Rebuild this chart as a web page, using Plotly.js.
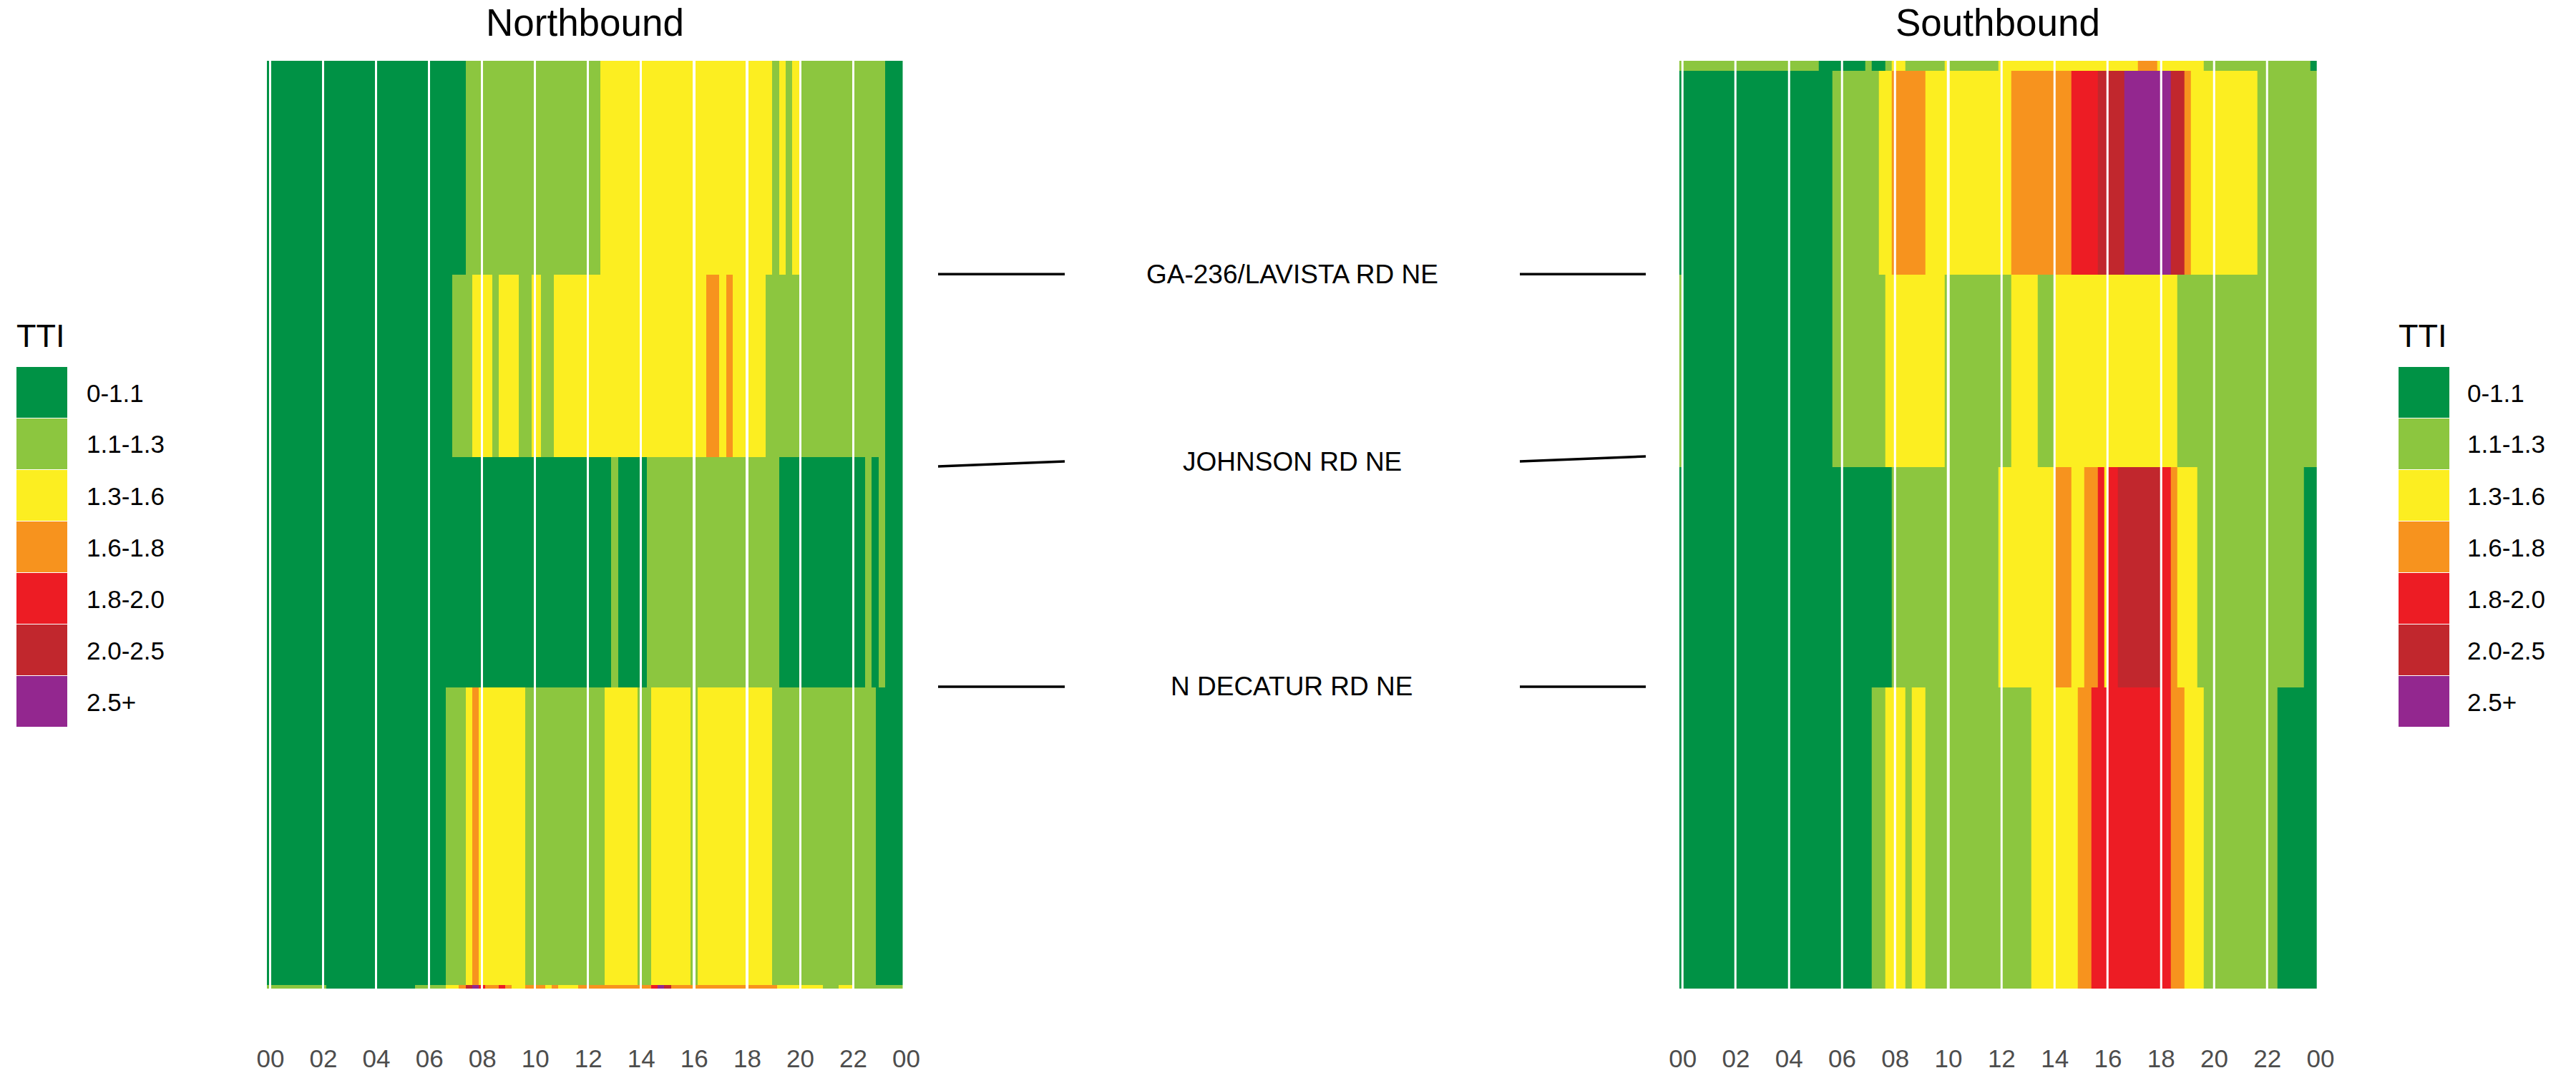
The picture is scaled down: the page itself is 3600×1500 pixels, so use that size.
<!DOCTYPE html>
<html><head><meta charset="utf-8">
<script src="https://cdn.plot.ly/plotly-3.0.1.min.js"></script>
<style>html,body{margin:0;padding:0;background:#fff}#chart{width:3600px;height:1500px}</style>
</head><body><div id="chart"></div>
<script>
// ---------- data ----------
const categories = ['0-1.1', '1.1-1.3', '1.3-1.6', '1.6-1.8', '1.8-2.0', '2.0-2.5', '2.5+'];
const categoryColors = ['#009245', '#8CC63F', '#FCEE21', '#F7931E', '#ED1C24', '#C1272D', '#93278F'];
const hourTickValues = [0, 2, 4, 6, 8, 10, 12, 14, 16, 18, 20, 22, 24];
const hourTickLabels = ['00', '02', '04', '06', '08', '10', '12', '14', '16', '18', '20', '22', '00'];
const binsPerDay = 288;                 // 5-minute bins
const missingBins = [1, 25, 49, 73, 97, 121, 145, 169, 193, 217, 241, 265];

// segment edges along the corridor (0 = bottom, 100 = top)
const nbSegmentEdges = [0, 0.39, 32.46, 57.29, 76.95, 100];
const sbSegmentEdges = [0, 32.46, 56.21, 76.95, 98.92, 100];

// TTI category runs per segment, [first 5-min bin, category index]; bottom segment first
const nbSeg1 = [[0,1],[27,0],[67,1],[81,2],[87,3],[90,5],[93,6],[96,4],[99,3],[105,4],[108,3],[111,2],[117,3],[126,2],[129,3],[132,2],[141,3],[174,4],[177,6],[180,5],[183,3],[231,2],[252,1],[259,2],[266,1]];
const nbSeg2 = [[0,0],[81,1],[90,2],[93,3],[96,2],[117,1],[153,2],[168,1],[174,2],[192,1],[195,2],[229,1],[276,0]];
const nbSeg3 = [[0,0],[156,1],[159,0],[172,1],[232,0],[271,1],[274,0],[277,1],[280,0]];
const nbSeg4 = [[0,0],[84,1],[93,2],[102,1],[105,2],[114,1],[120,2],[124,1],[130,2],[199,3],[205,2],[208,3],[211,2],[226,1],[280,0]];
const nbSeg5 = [[0,0],[90,1],[151,2],[229,1],[232,2],[235,1],[238,2],[242,1],[280,0]];

const sbSeg1 = [[0,0],[87,1],[93,2],[102,1],[105,2],[111,1],[159,2],[180,3],[186,4],[222,3],[228,2],[237,1],[270,0]];
const sbSeg2 = [[0,0],[96,1],[144,2],[170,3],[177,2],[183,3],[189,4],[192,2],[194,4],[198,5],[218,4],[222,3],[225,2],[234,1],[282,0]];
const sbSeg3 = [[0,1],[2,0],[69,1],[93,2],[120,1],[150,2],[162,1],[170,2],[225,1]];
const sbSeg4 = [[0,0],[69,1],[90,2],[96,3],[111,2],[150,3],[177,4],[189,5],[201,6],[222,5],[228,3],[231,2],[261,1]];
const sbSeg5 = [[0,1],[63,0],[84,1],[87,0],[93,1],[96,2],[102,1],[120,2],[122,1],[144,2],[207,3],[216,2],[237,1],[285,0]];

// cross streets and their positions on each direction's axis
const streets = ['GA-236/LAVISTA RD NE', 'JOHNSON RD NE', 'N DECATUR RD NE'];
const nbStreetPos = [77.0, 56.28, 32.54];
const sbStreetPos = [77.0, 57.36, 32.54];

// ---------- build ----------
function decode(runs) {
  const row = [];
  for (let k = 0; k < binsPerDay; k++) {
    let code = null;
    for (const r of runs) { if (r[0] <= k) code = r[1]; }
    row.push(missingBins.includes(k) ? null : code);
  }
  return row;
}
const timeEdges = [];
for (let k = 0; k <= binsPerDay; k++) timeEdges.push(k * 24 / binsPerDay);

const nbZ = [nbSeg1, nbSeg2, nbSeg3, nbSeg4, nbSeg5].map(decode);
const sbZ = [sbSeg1, sbSeg2, sbSeg3, sbSeg4, sbSeg5].map(decode);

const n = categories.length;
const colorscale = [];
categoryColors.forEach((c, i) => { colorscale.push([i / n, c]); colorscale.push([(i + 1) / n, c]); });

const W = 3600, H = 1500;
const FONT = 'Liberation Sans, Arial, Helvetica, sans-serif';
const px = v => v / W, py = v => 1 - v / H;

function hm(z, edges, xa) {
  return { type: 'heatmap', x: timeEdges, y: edges, z: z, zmin: -0.5, zmax: n - 0.5,
    colorscale: colorscale, showscale: false, zsmooth: false, hoverinfo: 'skip',
    xaxis: xa, yaxis: 'y' };
}

function xAxis(d0, d1) {
  return { domain: [px(d0), px(d1)], range: [0, 24], anchor: 'y', tickmode: 'array',
    tickvals: hourTickValues, ticktext: hourTickLabels, ticks: '', showgrid: false,
    zeroline: false, showline: false, ticklabelstandoff: 74, ticklabelshift: 5,
    tickfont: { family: FONT, size: 35, color: '#4D4D4D' }, fixedrange: true };
}

const shapes = [], annotations = [];
// panel titles
annotations.push({ text: 'Northbound', x: px(817), y: 1, xref: 'paper', yref: 'paper',
  xanchor: 'center', yanchor: 'top', showarrow: false, font: { family: FONT, size: 53, color: '#000' } });
annotations.push({ text: 'Southbound', x: px(2792), y: 1, xref: 'paper', yref: 'paper',
  xanchor: 'center', yanchor: 'top', showarrow: false, font: { family: FONT, size: 53, color: '#000' } });

// legends
function legend(x0, labelX) {
  annotations.push({ text: 'TTI', x: px(x0 - 2), y: py(469), xref: 'paper', yref: 'paper',
    xanchor: 'left', yanchor: 'middle', showarrow: false, font: { family: FONT, size: 45, color: '#000' } });
  categories.forEach((c, i) => {
    const top = 513 + 72 * i;
    shapes.push({ type: 'rect', xref: 'paper', yref: 'paper', x0: px(x0), x1: px(x0 + 71),
      y0: py(top + 71), y1: py(top), fillcolor: categoryColors[i], line: { width: 0 } });
    annotations.push({ text: c, x: px(labelX), y: py(top + 36), xref: 'paper', yref: 'paper',
      xanchor: 'left', yanchor: 'middle', showarrow: false, font: { family: FONT, size: 35, color: '#000' } });
  });
}
legend(23, 119);
legend(3352, 3446);

// cross street labels with leader lines
streets.forEach((s, i) => {
  const mid = (nbStreetPos[i] + sbStreetPos[i]) / 2;
  shapes.push({ type: 'line', xref: 'paper', yref: 'y', x0: px(1311), x1: px(1488),
    y0: nbStreetPos[i], y1: mid, line: { color: '#000', width: 3.5 } });
  shapes.push({ type: 'line', xref: 'paper', yref: 'y', x0: px(2124), x1: px(2300),
    y0: mid, y1: sbStreetPos[i], line: { color: '#000', width: 3.5 } });
  annotations.push({ text: s, x: px(1805.5), y: mid, xref: 'paper', yref: 'y',
    xanchor: 'center', yanchor: 'middle', showarrow: false, font: { family: FONT, size: 37, color: '#000' } });
});

const layout = {
  width: W, height: H, margin: { l: 0, r: 0, t: 0, b: 0 },
  paper_bgcolor: '#fff', plot_bgcolor: '#fff', showlegend: false,
  xaxis: xAxis(373, 1261.5),
  xaxis2: xAxis(2346.7, 3238),
  yaxis: { domain: [py(1382), py(85)], range: [0, 100], visible: false, fixedrange: true },
  shapes: shapes, annotations: annotations
};

Plotly.newPlot('chart', [hm(nbZ, nbSegmentEdges, 'x'), hm(sbZ, sbSegmentEdges, 'x2')], layout,
  { staticPlot: true, displayModeBar: false });
</script></body></html>
